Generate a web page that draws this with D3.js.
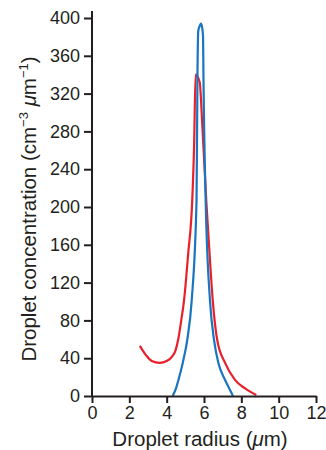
<!DOCTYPE html>
<html><head><meta charset="utf-8">
<script src="https://cdn.jsdelivr.net/npm/d3@7"></script>
<style>
html,body{margin:0;padding:0;background:#fff;}
svg{display:block;font-family:"Liberation Sans",Arial,Helvetica,sans-serif;}
</style></head>
<body>
<svg id="c" width="326" height="450"></svg>
<script>
const xTicks = [0, 2, 4, 6, 8, 10, 12];
const yTicks = [0, 40, 80, 120, 160, 200, 240, 280, 320, 360, 400];
// red series: radius (um), concentration
const redX = [2.56, 2.9, 3.2, 3.63, 4.0, 4.3, 4.47, 4.62, 4.78, 4.93, 5.15, 5.37, 5.47, 5.55, 5.77, 5.9, 6.12, 6.3, 6.47, 6.71, 7.13, 7.66, 8.2, 8.8];
const redY = [53, 43, 37, 35, 37, 42, 48, 60, 80, 101, 150, 207, 265, 340, 332, 290, 207, 150, 101, 59, 35, 17, 8, 1];
// blue series
const blueX = [4.32, 4.5, 4.63, 4.86, 5.1, 5.34, 5.6, 5.65, 5.69, 5.78, 5.84, 5.9, 5.95, 5.97, 6.09, 6.32, 6.54, 6.77, 7.13, 7.48, 7.55];
const blueY = [0, 8, 17, 35, 59, 101, 207, 340, 386, 392, 394, 390, 380, 340, 207, 101, 59, 35, 17, 3, 0];

const svg = d3.select("#c");
const x = d3.scaleLinear().domain([0, 12]).range([92, 316]);
const y = d3.scaleLinear().domain([0, 400]).range([396, 18]);
const ink = "#231f20";

// curves
const line = d3.line().x(d => x(d[0])).y(d => y(d[1])).curve(d3.curveMonotoneX);
svg.append("path").datum(redX.map((v, i) => [v, redY[i]]))
  .attr("d", line).attr("fill", "none").attr("stroke", "#e8202a").attr("stroke-width", 2.2)
  .attr("stroke-linejoin", "miter");
svg.append("path").datum(blueX.map((v, i) => [v, blueY[i]]))
  .attr("d", line).attr("fill", "none").attr("stroke", "#1a75c0").attr("stroke-width", 2.2);

// axes
const xAxis = svg.append("g").attr("transform", `translate(0,${y(0)})`)
  .call(d3.axisBottom(x).tickValues(xTicks).tickSize(7).tickSizeOuter(0).tickPadding(3));
const yAxis = svg.append("g").attr("transform", `translate(${x(0)},0)`)
  .call(d3.axisLeft(y).tickValues(yTicks).tickSize(8).tickSizeOuter(0).tickPadding(4));
[xAxis, yAxis].forEach(g => {
  g.select(".domain").attr("stroke", ink).attr("stroke-width", 2);
  g.selectAll(".tick line").attr("stroke", ink).attr("stroke-width", 2);
  g.selectAll(".tick text").attr("fill", ink).attr("font-size", 18)
    .attr("font-family", "'Liberation Sans',Arial,sans-serif");
});
// extend y axis line a bit above 400
yAxis.select(".domain").attr("d", `M0,${y(0)}V11`);

// axis titles
const xt = svg.append("text").attr("x", 200).attr("y", 446).attr("text-anchor", "middle")
  .attr("font-size", 20.5).attr("fill", ink);
xt.append("tspan").text("Droplet radius (");
xt.append("tspan").attr("font-style", "italic").text("μ");
xt.append("tspan").text("m)");

const yt = svg.append("text").attr("transform", "translate(36,209) rotate(-90)")
  .attr("text-anchor", "middle").attr("font-size", 20.5).attr("fill", ink);
yt.append("tspan").text("Droplet concentration (cm");
yt.append("tspan").attr("font-size", 13).attr("dy", -8).text("−3");
yt.append("tspan").attr("dy", 8).text(" ");
yt.append("tspan").attr("font-style", "italic").text("μ");
yt.append("tspan").text("m");
yt.append("tspan").attr("font-size", 13).attr("dy", -8).text("−1");
yt.append("tspan").attr("dy", 8).text(")");
</script>
</body></html>
